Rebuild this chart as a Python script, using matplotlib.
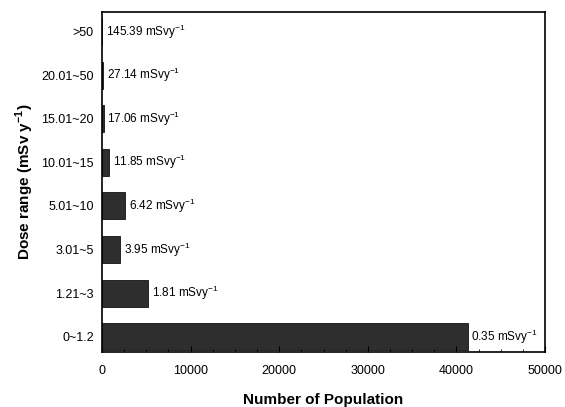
import matplotlib
matplotlib.use("Agg")
import matplotlib.pyplot as plt
from matplotlib.ticker import MultipleLocator

plt.rcParams["font.family"] = ["Liberation Sans", "DejaVu Sans"]
plt.rcParams["mathtext.fontset"] = "custom"
plt.rcParams["mathtext.rm"] = "Liberation Sans"
plt.rcParams["mathtext.bf"] = "Liberation Sans:bold"

ranges = ["0~1.2", "1.21~3", "3.01~5", "5.01~10", "10.01~15", "15.01~20", "20.01~50", ">50"]
population = [41300, 5200, 2050, 2600, 800, 220, 120, 40]
mean_dose = ["0.35", "1.81", "3.95", "6.42", "11.85", "17.06", "27.14", "145.39"]

fig = plt.figure(figsize=(5.65, 4.07), dpi=100)
ax = fig.add_axes([102 / 565, 55 / 407, 443 / 565, 340 / 407])

y = range(len(ranges))
bars = ax.barh(y, population, height=0.62, color="#2e2e2e", edgecolor="#111111", linewidth=0.6)
for b, d in zip(bars, mean_dose):
    ax.annotate(f"{d} mSvy$^{{-1}}$", (b.get_width(), b.get_y() + b.get_height() / 2),
                xytext=(2.5, 0), textcoords="offset points", ha="left", va="center", fontsize=8.5)

ax.set_xlim(0, 50000)
ax.set_ylim(-0.35, 7.45)
ax.set_yticks(list(y), ranges)
ax.xaxis.set_major_locator(MultipleLocator(10000))
ax.xaxis.set_minor_locator(MultipleLocator(2500))
ax.tick_params(axis="both", labelsize=9, direction="in")
ax.tick_params(axis="x", which="major", length=4, pad=9)
ax.tick_params(axis="x", which="minor", length=2, direction="in")
ax.tick_params(axis="y", length=0, pad=6)
for s in ax.spines.values():
    s.set_linewidth(1.2)

ax.set_xlabel("Number of Population", fontsize=11, fontweight="bold", labelpad=12)
ax.set_ylabel("Dose range (mSv y$^{\\mathbf{-1}}$)", fontsize=11, fontweight="bold", labelpad=4)

fig.savefig("out.png", dpi=100)
